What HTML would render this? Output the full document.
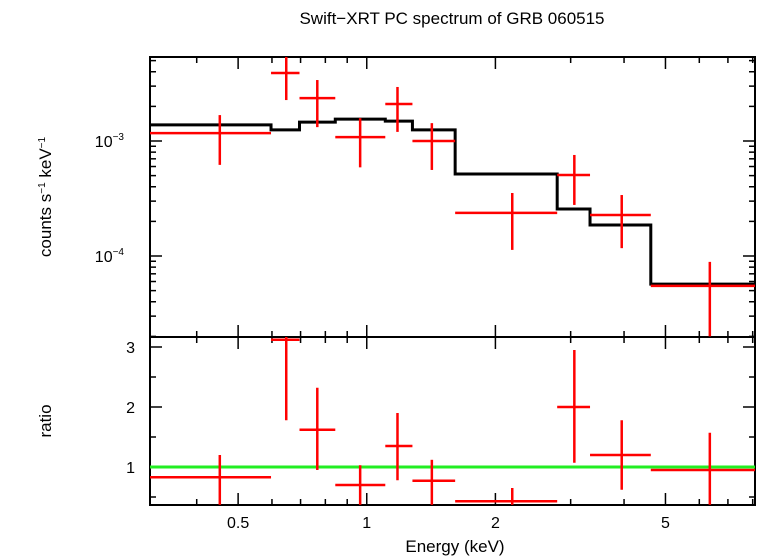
<!DOCTYPE html>
<html><head><meta charset="utf-8"><style>
body{margin:0;background:#fff;}
svg{display:block;font-family:"Liberation Sans",sans-serif;}
</style></head><body>
<svg id="c" width="758" height="556" viewBox="0 0 758 556">
<text x="452" y="24" font-size="17" text-anchor="middle">Swift−XRT PC spectrum of GRB 060515</text>
<text x="455" y="552" font-size="17" text-anchor="middle">Energy (keV)</text>
<text transform="translate(51,197) rotate(-90)" font-size="17" text-anchor="middle">counts s<tspan font-size="10" dy="-6">−1</tspan><tspan dy="6"> keV</tspan><tspan font-size="10" dy="-6">−1</tspan></text>
<text transform="translate(51,421) rotate(-90)" font-size="17" text-anchor="middle">ratio</text>
<g id="g"></g>
</svg>
<script>
const binLo=[0.311,0.597,0.696,0.844,1.105,1.279,1.61,2.79,3.33,4.62];
const binHi=[0.597,0.696,0.844,1.105,1.279,1.61,2.79,3.33,4.62,8.1];
const centers=[0.453,0.648,0.766,0.965,1.18,1.42,2.19,3.06,3.95,6.35];
const counts=[1.17e-3,3.9e-3,2.36e-3,1.08e-3,2.1e-3,1.0e-3,2.37e-4,5.06e-4,2.27e-4,5.5e-5];
const countsLo=[6.2e-4,2.27e-3,1.32e-3,5.9e-4,1.2e-3,5.6e-4,1.13e-4,2.78e-4,1.17e-4,2e-5];
const countsHi=[1.68e-3,5.4e-3,3.39e-3,1.58e-3,2.95e-3,1.43e-3,3.53e-4,7.56e-4,3.39e-4,8.9e-5];
const model=[1.38e-3,1.25e-3,1.46e-3,1.55e-3,1.49e-3,1.25e-3,5.16e-4,2.56e-4,1.86e-4,5.7e-5];
const ratio=[0.83,3.12,1.62,0.7,1.35,0.77,0.43,2.0,1.2,0.95];
const ratioLo=[0.37,1.78,0.95,0.37,0.78,0.37,0.37,1.07,0.62,0.37];
const ratioHi=[1.2,3.18,2.32,1.03,1.9,1.12,0.65,2.95,1.78,1.57];
const xTicks=[0.5,1,2,5];
const xTickLabels=["0.5","1","2","5"];
const yRatioTicks=[1,2,3];

const L=150,R=755,T1=57,B1=337,B2=505;
const xmin=0.311,xmax=8.1;
const X=e=>L+(Math.log10(e)-Math.log10(xmin))/(Math.log10(xmax)-Math.log10(xmin))*(R-L);
const Y1=v=>141-(Math.log10(v)+3)*115;
const Y2=v=>467-(v-1)*60;
const g=document.getElementById('g');
const NS='http://www.w3.org/2000/svg';
function el(t,a,name){const e=document.createElementNS(NS,t);for(const k in a)e.setAttribute(k,a[k]);


g.appendChild(e);return e;}
const clip=(y,a,b)=>Math.max(a,Math.min(b,y));
el('rect',{x:L,y:T1,width:R-L,height:B1-T1,fill:'none',stroke:'#000','stroke-width':2},'top-panel-frame');
el('rect',{x:L,y:B1,width:R-L,height:B2-B1,fill:'none',stroke:'#000','stroke-width':2},'bottom-panel-frame');
for(let d=0.3;d<=8.01;d=+(d+(d<1?0.1:1)).toFixed(2)){
  const x=X(d);if(x<L||x>R)continue;
  const maj=xTicks.some(t=>Math.abs(t-d)<1e-6);const len=maj?12:6;
  [[T1,1],[B1,-1],[B1,1],[B2,-1]].forEach(([y,s])=>el('line',{x1:x,x2:x,y1:y,y2:y+s*len,stroke:'#000','stroke-width':1.5},'x-tick'));
}
xTicks.forEach((t,i)=>{const e=el('text',{x:X(t),y:528,'font-size':16,'text-anchor':'middle'},'x-tick-label');e.textContent=xTickLabels[i];});
for(let p=-5;p<=-2;p++)for(let m=1;m<10;m++){const v=m*Math.pow(10,p);const y=Y1(v);if(y<T1||y>B1)continue;
  const len=m==1?12:6;el('line',{x1:L,x2:L+len,y1:y,y2:y,stroke:'#000','stroke-width':1.5},'y-tick');el('line',{x1:R,x2:R-len,y1:y,y2:y,stroke:'#000','stroke-width':1.5},'y-tick');}
[-3,-4].forEach(p=>{const t=el('text',{x:124,y:Y1(Math.pow(10,p))+6,'font-size':16,'text-anchor':'end'},'y-tick-label');t.innerHTML='10<tspan font-size="10" dy="-7">'+(p==-3?'−3':'−4')+'</tspan>';});
for(let v=0.5;v<=3.01;v+=0.5){const y=Y2(v);const len=Number.isInteger(v)?12:6;
  el('line',{x1:L,x2:L+len,y1:y,y2:y,stroke:'#000','stroke-width':1.5},'ratio-tick');el('line',{x1:R,x2:R-len,y1:y,y2:y,stroke:'#000','stroke-width':1.5},'ratio-tick');}
yRatioTicks.forEach(v=>{const t=el('text',{x:135,y:Y2(v)+6,'font-size':16,'text-anchor':'end'},'ratio-tick-label');t.textContent=v;});
let d='';binLo.forEach((lo,i)=>{d+=(i?'L':'M')+X(lo)+','+Y1(model[i])+'L'+X(binHi[i])+','+Y1(model[i]);});
el('path',{d:d,fill:'none',stroke:'#000','stroke-width':3},'model-step-line');
binLo.forEach((lo,i)=>{
  el('line',{x1:X(lo),x2:X(binHi[i]),y1:Y1(counts[i]),y2:Y1(counts[i]),stroke:'#f00','stroke-width':2.5},'data-point');
  el('line',{x1:X(centers[i]),x2:X(centers[i]),y1:clip(Y1(countsHi[i]),T1,B1),y2:clip(Y1(countsLo[i]),T1,B1),stroke:'#f00','stroke-width':2.5},'data-error');
});
el('line',{x1:L,x2:R,y1:Y2(1),y2:Y2(1),stroke:'#2e2','stroke-width':3},'unity-line');
binLo.forEach((lo,i)=>{
  el('line',{x1:X(lo),x2:X(binHi[i]),y1:clip(Y2(ratio[i]),B1,B2),y2:clip(Y2(ratio[i]),B1,B2),stroke:'#f00','stroke-width':2.5},'ratio-point');
  el('line',{x1:X(centers[i]),x2:X(centers[i]),y1:clip(Y2(ratioHi[i]),B1,B2),y2:clip(Y2(ratioLo[i]),B1,B2),stroke:'#f00','stroke-width':2.5},'ratio-error');
});
</script>
</body></html>
